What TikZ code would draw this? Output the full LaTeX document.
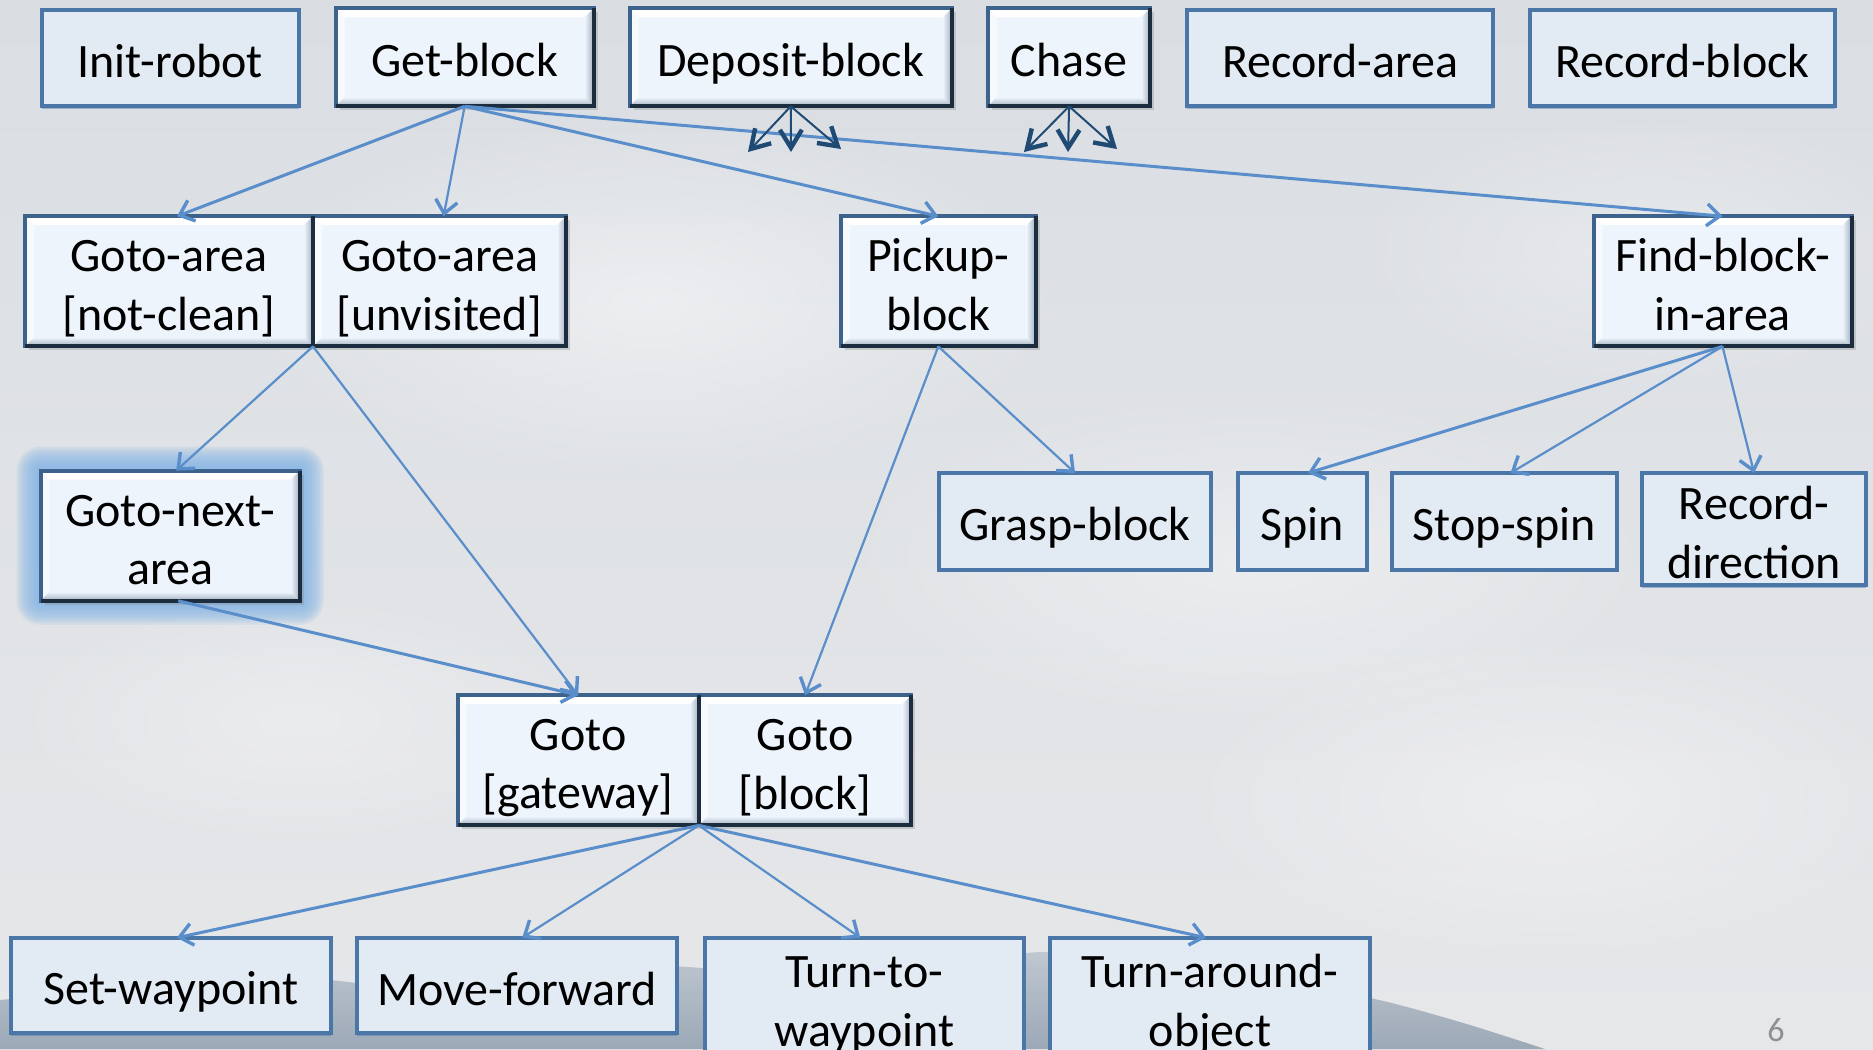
\documentclass[tikz,border=0pt]{standalone}
\usepackage{fontspec}
\setmainfont{Carlito}
\usetikzlibrary{arrows.meta,shadows,fadings}

\definecolor{skytop}{HTML}{DADEE3}
\definecolor{skybottom}{HTML}{E6E7E9}
\definecolor{hilltop}{HTML}{BCC5CE}
\definecolor{hillbottom}{HTML}{94A2B1}
\definecolor{bevelfill}{HTML}{EDF4FC}
\definecolor{bevelline}{HTML}{3D638D}
\definecolor{beveldark}{HTML}{1D2D40}
\definecolor{bevelshade}{HTML}{A3AFBE}
\definecolor{flatfill}{HTML}{E2EAF3}
\definecolor{flatline}{HTML}{4A77A8}
\definecolor{linkblue}{HTML}{5A8ECB}
\definecolor{fanblue}{HTML}{1F4A74}
\definecolor{glowblue}{HTML}{86B6E4}
\definecolor{pagegray}{HTML}{8F8F8F}

% soft round patch for the clouds
\tikzfading[name=softblob, inner color=transparent!0, outer color=transparent!100]

% width of the raised bevel inside composite task boxes
\newcommand{\bevw}{4.5pt}
% light/dark bevel strips painted inside a composite box
\newcommand{\bevelart}{%
  \path (path picture bounding box.north west) coordinate (pNW)
        (path picture bounding box.north east) coordinate (pNE)
        (path picture bounding box.south west) coordinate (pSW)
        (path picture bounding box.south east) coordinate (pSE);
  \fill[white, opacity=0.95] (pNW) -- (pNE) -- ([shift={(-\bevw,-\bevw)}]pNE)
       -- ([shift={(\bevw,-\bevw)}]pNW) -- cycle;
  \fill[white, opacity=0.6] (pNW) -- ([shift={(\bevw,-\bevw)}]pNW)
       -- ([shift={(\bevw,\bevw)}]pSW) -- (pSW) -- cycle;
  \shade[top color=bevelfill, bottom color=bevelshade] (pSW) -- ([shift={(\bevw,\bevw)}]pSW)
       -- ([shift={(-\bevw,\bevw)}]pSE) -- (pSE) -- cycle;
  \shade[left color=bevelfill, right color=bevelshade] (pNE) -- (pSE)
       -- ([shift={(-\bevw,\bevw)}]pSE) -- ([shift={(-\bevw,-\bevw)}]pNE) -- cycle;
}

% fixed ascent and descent, so every label sits the same way in its box
\newcommand{\lbl}[1]{\rule{0pt}{23.2pt}#1\rule[-3.6pt]{0pt}{0pt}}

% box from its corners (x1,y1)-(x2,y2), in pixel units
\newcommand{\taskbox}[7]{%
  \node[#1, minimum width={(#5-#3)*0.5pt}, minimum height={(#6-#4)*0.5pt}]
    (#2) at ({(#3+#5)/2},{(#4+#6)/2}) {\lbl{#7}};}

\begin{document}
\begin{tikzpicture}[x=0.5pt, y=-0.5pt,
  boxtext/.style={font=\fontsize{24}{29.3}\selectfont, align=center,
    inner sep=0pt, outer sep=0pt, text=black, rectangle},
  comp/.style={boxtext, fill=bevelfill, draw=bevelline, line width=2pt,
    drop shadow={shadow xshift=2pt, shadow yshift=-2pt, opacity=0.3},
    path picture={\bevelart}},
  prim/.style={boxtext, fill=flatfill, draw=flatline, line width=2pt,
    drop shadow={shadow xshift=0pt, shadow yshift=-1.2pt, opacity=0.45, fill=flatline}},
  link/.style={draw=linkblue, line width=1.1pt,
    -{Straight Barb[length=6.5pt,width=11pt,line width=1.7pt]}},
  linkthick/.style={link, line width=1.5pt},
  fan/.style={draw=fanblue, line width=1pt,
    -{Straight Barb[length=9pt,width=11pt,line width=2.2pt]}},
  darkedge/.style={draw=beveldark, line width=2pt},
  cloud/.style={white, path fading=softblob},
  pagenum/.style={text=pagegray, inner sep=0pt, font=\fontsize{17}{20}\selectfont}
]
\useasboundingbox (0,0) rectangle (1873,1049);
\clip (0,0) rectangle (1873,1049);

% sky
\shade[top color=skytop, bottom color=skybottom] (0,0) rectangle (1873,1049);
\fill[cloud, fill opacity=0.45] (650,300) ellipse (420 and 180);
\fill[cloud, fill opacity=0.35] (1250,560) ellipse (420 and 170);
\fill[cloud, fill opacity=0.3] (300,720) ellipse (300 and 130);
\fill[cloud, fill opacity=0.35] (1550,800) ellipse (380 and 170);
\fill[cloud, fill opacity=0.3] (1650,250) ellipse (300 and 140);

% distant hills
\shade[top color=hilltop, bottom color=hillbottom, opacity=0.9]
  plot[smooth] coordinates {(0,1000) (80,993) (180,985) (300,978) (420,988) (540,975)
    (660,966) (760,972) (880,968) (980,958) (1050,952) (1120,962) (1250,978)
    (1370,998) (1460,1022) (1545,1049)}
  -- (0,1049) -- cycle;

% highlight glow round Goto-next-area
\foreach \g in {2,4,...,24}
  \fill[glowblue, opacity=0.15, rounded corners={\g*0.5pt}]
    ({40.6-\g},{470.6-\g}) rectangle ({299.8+\g},{600.8+\g});

% top row
\taskbox{prim}{initrobot}{41.8}{9.6}{298.6}{106.3}{Init-robot}
\taskbox{comp}{getblock}{335.6}{8.4}{593.7}{106.3}{Get-block}
\taskbox{comp}{depositblock}{629.5}{8.4}{952}{106.3}{Deposit-block}
\taskbox{comp}{chase}{987.9}{8.4}{1150.3}{106.3}{Chase}
\taskbox{prim}{recordarea}{1187.3}{9.6}{1493.1}{106.3}{Record-area}
\taskbox{prim}{recordblock}{1530.2}{9.6}{1834.8}{106.3}{Record-block}

% second row
\taskbox{comp}{gotoareanc}{25.1}{216.2}{313}{346.4}{Goto-area\\{[not-clean]}}
\taskbox{comp}{gotoareauv}{313}{216.2}{566.2}{346.4}{Goto-area\\{[unvisited]}}
\taskbox{comp}{pickupblock}{841}{216.2}{1035.6}{346.4}{Pickup-\\block}
\taskbox{comp}{findblock}{1593.5}{216.2}{1851.5}{346.4}{Find-block-\\in-area}

% third row
\taskbox{comp}{gotonext}{40.6}{470.6}{299.8}{600.8}{Goto-next-\\area}
\taskbox{prim}{graspblock}{938.9}{473}{1211.2}{569.8}{Grasp-block}
\taskbox{prim}{spin}{1237.5}{473}{1366.5}{569.8}{Spin}
\taskbox{prim}{stopspin}{1391.6}{473}{1617.3}{569.8}{Stop-spin}
\taskbox{prim}{recorddir}{1642.4}{473}{1865.8}{585.3}{Record-\\direction}

% goto pair
\taskbox{comp}{gotogw}{457.5}{695.2}{698.8}{825.4}{Goto\\{[gateway]}}
\taskbox{comp}{gotoblk}{698.8}{695.2}{911.4}{825.4}{Goto\\{[block]}}

% bottom row
\taskbox{prim}{setwp}{10.8}{937.7}{330.9}{1033.2}{Set-waypoint}
\taskbox{prim}{movefwd}{357.2}{937.7}{677.3}{1033.2}{Move-forward}
\taskbox{prim}{turnto}{704.8}{937.7}{1023.7}{1058}{Turn-to-\\waypoint}
\taskbox{prim}{turnaround}{1050}{937.7}{1370.1}{1058}{Turn-around-\\object}

% darker lower and right rims of the raised boxes
\foreach \n in {getblock,depositblock,chase,gotoareanc,gotoareauv,pickupblock,
                findblock,gotonext,gotogw,gotoblk}
  \draw[darkedge] (\n.north east) -- (\n.south east) -- (\n.south west);

% decompositions
\draw[linkthick] (getblock.south) -- ([xshift=4pt]gotoareanc.north);
\draw[link] (getblock.south) -- ([xshift=2pt]gotoareauv.north);
\draw[linkthick] (getblock.south) -- (pickupblock.north);
\draw[linkthick] (getblock.south) -- (findblock.north);
\draw[link] (gotoareanc.south east) -- ([xshift=3pt]gotonext.north);
\draw[link] (gotoareanc.south east) -- (gotogw.north);
\draw[linkthick] ([xshift=4pt]gotonext.south) -- (gotogw.north);
\draw[link] (pickupblock.south) -- (gotoblk.north);
\draw[link] (pickupblock.south) -- (graspblock.north);
\draw[linkthick] (findblock.south) -- ([xshift=3pt]spin.north);
\draw[link] (findblock.south) -- ([xshift=3pt]stopspin.north);
\draw[link] (findblock.south) -- (recorddir.north);
\draw[linkthick] (gotogw.south east) -- ([xshift=3pt]setwp.north);
\draw[link] (gotogw.south east) -- ([xshift=2.5pt]movefwd.north);
\draw[link] (gotogw.south east) -- ([xshift=-2pt]turnto.north);
\draw[linkthick] (gotogw.south east) -- ([xshift=-2pt]turnaround.north);

% unexpanded subtasks fanning out
\coordinate (depL) at (748,152);
\coordinate (depM) at (791,152);
\coordinate (depR) at (841,149);
\coordinate (chL) at (1024,152);
\coordinate (chM) at (1068,152);
\coordinate (chR) at (1117,149);
\foreach \t in {depL,depM,depR} \draw[fan] (depositblock.south) -- (\t);
\foreach \t in {chL,chM,chR} \draw[fan] (chase.south) -- (\t);

% slide number
\node[pagenum] (slideno) at (1776,1030) {6};
\end{tikzpicture}
\end{document}
